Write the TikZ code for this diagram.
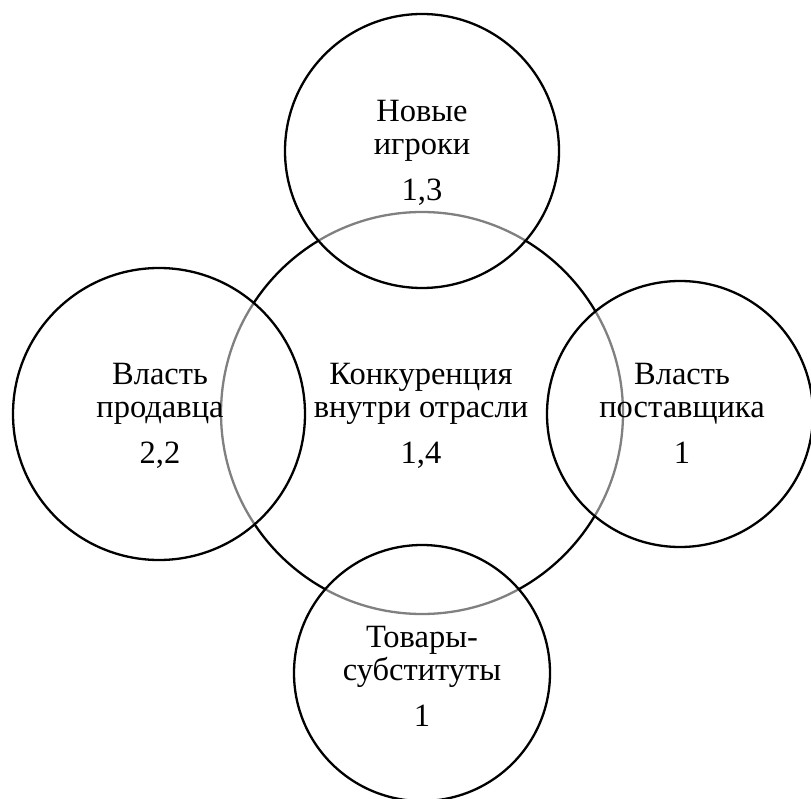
\documentclass[tikz,border=0pt]{standalone}
\usepackage{fontspec}
\setmainfont{Liberation Serif}
\begin{document}
\begin{tikzpicture}[x=1pt,y=1pt,
  ring/.style={circle, draw=black, line width=2.3pt, inner sep=0pt},
  sat/.style={ring, fill=white, fill opacity=0.5, draw opacity=1},
  lbl/.style={align=center, anchor=base, inner sep=0pt, font=\fontsize{32.5}{33}\selectfont, text opacity=1}]
\useasboundingbox (0,0) rectangle (811,-799);
% central circle
\node[ring, minimum size=402pt] (core) at (422,-413) {};
% satellite circles
\node[sat, minimum size=274pt] (top) at (422,-151) {};
\node[sat, minimum size=292pt] (left) at (159,-414) {};
\node[sat, minimum size=266pt] (right) at (680,-414) {};
\node[sat, minimum size=256pt] (bottom) at (422,-673) {};
% labels (anchor = baseline of last line)
\node[lbl] (ttop) at (422,-201) {Новые\\игроки\\[13pt]1,3};
\node[lbl] (tcore) at (421,-463) {Конкуренция\\внутри отрасли\\[13pt]1,4};
\node[lbl] (tleft) at (160,-463) {Власть\\продавца\\[13pt]2,2};
\node[lbl] (tright) at (682,-463) {Власть\\поставщика\\[13pt]1};
\node[lbl] (tbottom) at (422,-726) {Товары-\\субституты\\[13pt]1};
\end{tikzpicture}
\end{document}
